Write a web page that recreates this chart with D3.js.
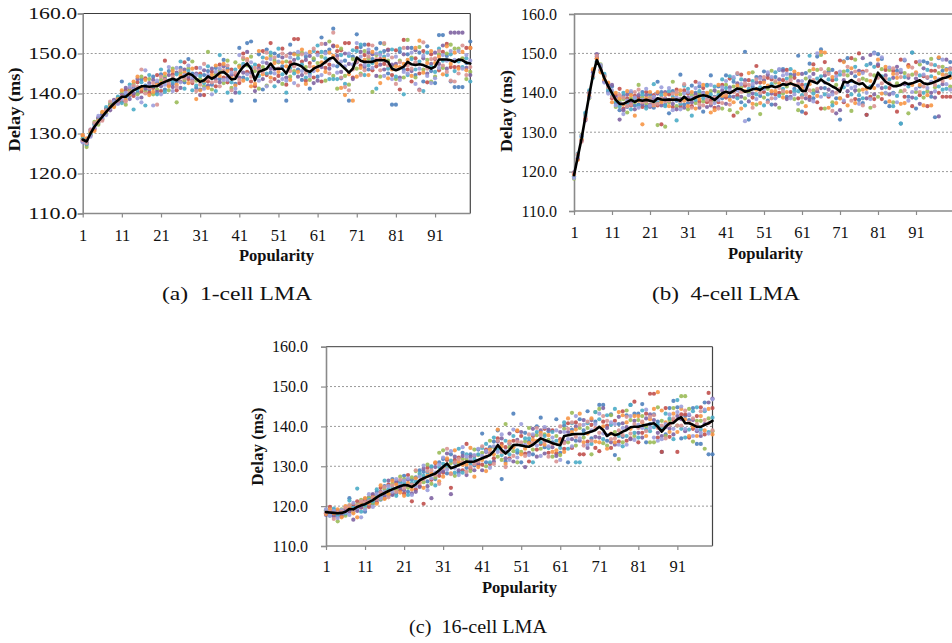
<!DOCTYPE html>
<html><head><meta charset="utf-8">
<script src="https://cdn.jsdelivr.net/npm/d3@7"></script>
<style>body{margin:0;background:#fff}svg text{font-family:"Liberation Serif","Times New Roman",serif}</style>
</head><body><svg id="chart" width="952" height="643"></svg>
<script>
// ---------------- DATA ----------------
const popularity = d3.range(1, 101);
const xTickValues = [1, 11, 21, 31, 41, 51, 61, 71, 81, 91];
const yTickValues = [110, 120, 130, 140, 150, 160];
const gridValues = [120, 130, 140, 150];
const seriesColors = ["#4F81BD", "#C0504D", "#9BBB59", "#8064A2", "#4BACC6", "#F79646", "#9C9EDB", "#D99594"];
const captions = ["(a)  1-cell LMA", "(b)  4-cell LMA", "(c)  16-cell LMA"];
const xTitle = "Popularity";
const yTitle = "Delay (ms)";

// (a) 1-cell LMA
const meanA = [128.5,128.0,130.0,131.7,133.0,134.2,135.4,136.5,137.5,138.3,
139.2,139.2,140.0,140.8,141.3,141.8,141.8,141.7,141.8,141.8,
142.5,142.9,143.3,143.7,143.3,144.0,144.3,145.0,144.6,143.7,
142.9,143.3,144.3,143.7,144.3,145.2,145.4,144.6,143.5,143.7,
145.4,146.7,147.5,146.2,143.3,145.4,145.8,146.2,147.5,146.2,
146.2,146.2,145.0,147.1,147.5,147.2,146.7,145.8,145.4,146.2,
146.7,147.1,147.9,148.7,149.0,147.9,147.1,146.2,145.2,146.2,
149.0,148.2,147.9,147.9,147.9,148.3,148.3,148.3,147.9,146.2,
145.8,146.2,146.7,147.9,147.3,147.1,147.3,147.1,146.7,146.2,
146.7,148.5,148.5,148.5,148.3,147.9,148.5,148.3,147.7,147.5];
const a1 = [128.2,127.2,130.6,132.4,132.6,134.8,135.0,137.2,137.0,139.0,
143.0,139.8,139.5,141.6,140.2,143.5,142.0,141.0,144.2,142.6,
144.8,141.0,145.6,142.4,143.0,146.4,142.8,148.6,145.0,141.4,
141.0,144.6,145.6,142.2,146.4,143.6,148.4,146.2,138.2,142.4,
151.4,144.0,152.6,153.0,138.2,149.8,141.0,151.0,145.2,150.0,
149.4,146.8,138.2,152.2,150.0,146.0,143.4,149.2,141.2,148.4,
144.2,154.0,150.4,151.0,156.2,146.8,143.8,148.2,138.2,149.2,
154.8,151.6,152.2,146.0,148.6,151.2,152.6,150.6,145.0,137.2,
137.2,150.4,146.0,149.8,151.4,144.6,150.2,143.0,151.8,145.6,
142.6,154.6,154.6,149.4,143.0,141.6,141.6,141.6,147.6,153.0];
const a2 = [129.4,128.5,129.5,131.0,133.8,133.5,136.2,136.0,138.2,137.6,
138.0,140.8,141.2,139.4,142.8,140.5,143.8,140.2,141.4,144.6,
140.6,148.2,142.0,144.8,140.8,143.0,147.8,143.6,142.6,146.4,
145.0,139.6,143.0,145.4,141.8,147.2,144.0,142.8,146.0,144.6,
142.6,150.0,145.4,143.0,141.8,147.0,150.6,144.6,152.6,143.6,
144.4,151.2,142.2,147.8,153.6,153.6,148.0,143.2,147.6,144.0,
150.2,143.0,146.4,147.2,152.0,150.6,150.8,152.6,152.6,144.0,
151.4,147.0,149.6,152.2,145.8,146.8,148.6,147.4,151.0,144.6,
150.8,141.0,153.4,146.0,143.0,148.8,145.0,150.6,142.8,149.8,
148.6,145.8,150.4,152.4,146.6,146.6,146.6,148.6,151.4,151.4];
const a3 = [128.8,126.6,130.2,132.9,132.2,135.2,134.9,137.6,136.8,138.9,
140.4,137.2,140.6,142.4,139.8,144.2,140.6,143.6,139.8,141.0,
143.4,144.2,140.8,146.2,137.8,145.2,143.4,146.2,148.0,143.2,
143.6,141.8,150.4,141.0,144.8,145.8,142.6,148.2,141.4,147.8,
147.0,148.6,147.0,149.2,145.6,141.2,146.6,142.0,149.4,148.2,
147.8,142.4,148.0,144.2,145.6,149.6,150.2,146.6,143.4,148.8,
147.6,149.2,143.2,153.0,144.4,141.2,151.2,144.4,142.2,148.6,
146.2,145.0,150.6,148.8,140.4,149.6,144.2,152.4,148.2,146.8,
143.6,148.2,144.0,153.4,149.0,144.0,151.6,146.0,148.4,143.0,
144.2,149.8,146.4,150.0,152.2,151.2,151.2,148.8,143.6,145.4];
const a4 = [128.0,127.8,131.0,131.3,134.0,134.5,136.0,135.8,138.4,138.0,
139.6,141.4,138.6,140.0,143.6,139.0,141.2,142.6,143.4,140.4,
141.8,143.6,144.6,141.6,145.2,141.4,146.0,144.2,143.4,145.0,
139.6,145.8,142.0,146.2,143.6,142.8,146.8,144.0,144.6,140.2,
144.0,145.2,150.4,145.2,140.6,146.2,143.6,147.6,146.2,146.0,
143.0,149.0,144.0,150.0,148.4,144.2,144.6,148.4,149.4,142.6,
143.2,146.6,152.4,146.2,151.8,149.4,145.4,150.0,147.4,143.6,
147.8,150.4,146.6,150.2,149.8,144.4,147.2,146.0,150.8,147.2,
147.4,144.0,149.8,151.4,145.6,150.8,141.0,148.8,145.0,147.4,
150.2,147.4,152.0,146.2,155.2,155.2,155.2,155.2,146.4,144.6];
const a5 = [128.6,127.4,129.8,132.2,133.4,133.8,136.6,137.0,137.9,139.2,
137.6,139.0,142.2,136.0,141.0,142.8,137.0,144.6,141.8,139.8,
146.0,140.4,143.2,143.0,144.8,148.0,141.2,145.6,140.8,142.0,
144.4,142.6,146.8,143.8,140.6,149.6,145.4,140.2,142.8,146.0,
140.2,147.4,143.6,146.6,147.2,144.4,149.0,145.0,150.2,141.8,
151.2,144.8,140.2,146.4,145.0,148.8,147.2,144.0,145.0,150.6,
152.0,150.4,148.8,143.6,143.6,143.6,149.6,142.4,149.4,150.8,
150.6,152.2,144.6,147.0,147.6,141.2,150.2,149.2,146.2,151.0,
144.2,151.2,139.8,144.6,148.6,146.0,148.0,140.6,150.2,146.6,
145.4,151.2,148.2,144.6,149.8,145.6,148.0,146.6,148.8,143.0];
const a6 = [129.6,128.8,130.4,130.6,133.2,135.4,135.6,136.8,136.6,138.6,
140.8,138.4,139.8,143.0,144.2,141.2,143.4,139.6,140.4,142.2,
142.6,145.0,141.8,145.6,142.2,144.4,145.2,142.6,146.2,138.6,
140.8,143.2,141.4,144.6,147.0,144.4,147.4,145.6,143.8,142.0,
146.6,143.2,148.6,141.8,142.4,150.6,144.8,148.8,144.0,147.6,
145.4,147.8,146.8,143.4,149.8,145.4,151.0,142.4,150.4,146.6,
145.8,147.8,145.4,150.2,149.4,151.8,141.4,139.6,144.8,138.2,
144.2,146.4,148.4,144.6,150.4,147.6,142.6,148.6,143.8,146.0,
146.8,146.6,147.4,148.4,144.4,151.4,153.2,145.2,147.6,150.6,
147.6,149.2,144.8,151.8,147.4,150.2,146.2,150.4,145.8,151.4];
const a7 = [127.8,128.2,129.2,131.6,134.4,134.0,134.6,136.3,138.0,137.4,
138.6,140.2,141.6,141.0,138.8,137.8,145.8,142.0,137.0,143.2,
139.8,142.2,146.6,140.6,146.4,142.8,144.6,147.0,144.0,144.6,
146.4,141.2,144.6,139.8,145.4,146.2,143.4,143.4,145.2,141.2,
149.6,146.8,144.8,147.8,144.0,143.2,147.8,141.8,148.6,145.0,
148.0,143.6,143.2,149.0,142.6,150.4,145.6,150.0,144.4,145.6,
149.6,144.6,150.0,148.4,147.0,145.2,148.0,146.8,150.0,147.2,
152.6,149.2,147.2,151.0,146.4,150.0,149.6,144.4,149.6,143.6,
149.2,143.4,145.4,145.0,150.2,142.4,146.2,149.4,144.4,142.6,
143.8,146.4,149.6,148.2,150.6,148.4,150.6,146.2,149.6,148.2];
const a8 = [128.3,127.6,130.9,132.6,132.8,133.2,135.8,138.0,137.3,138.2,
139.2,138.0,140.2,142.0,141.6,146.0,140.0,141.4,142.6,137.2,
144.2,143.4,142.6,144.2,141.6,145.8,143.8,144.8,143.0,140.6,
142.2,147.4,143.8,142.8,143.0,141.8,145.8,147.0,140.8,145.2,
143.4,149.0,148.2,144.2,146.4,145.8,145.4,150.2,143.0,149.0,
146.2,150.0,149.4,145.6,146.8,142.0,149.8,145.2,146.8,151.2,
146.6,152.4,147.8,145.0,155.2,148.6,144.0,141.6,140.8,146.0,
148.0,144.6,145.8,149.2,152.0,148.6,145.8,152.6,147.0,149.0,
142.4,147.8,151.4,147.0,146.2,147.8,140.8,152.8,146.2,148.6,
148.8,150.6,147.0,145.4,143.2,143.0,145.0,152.0,144.6,146.6];

// (b) 4-cell LMA
const meanB = [119.1,123.8,128.4,133.9,139.4,144.5,148.3,146.2,143.7,141.7,
139.9,138.2,137.2,137.2,137.7,138.2,137.7,138.2,138.0,138.2,
138.0,137.7,138.6,138.3,138.2,138.3,138.2,138.3,138.0,139.0,
138.2,138.3,138.8,139.2,139.4,139.2,138.8,138.2,139.0,139.9,
140.3,139.9,140.5,141.1,140.9,140.3,140.5,140.9,141.1,140.7,
141.4,141.4,141.7,141.4,141.7,142.2,142.0,142.4,142.0,141.7,
140.5,140.5,143.1,142.8,142.4,143.4,142.6,142.2,141.6,141.1,
140.3,142.8,142.6,143.2,142.6,142.2,142.4,141.4,141.1,142.6,
145.1,143.9,142.8,142.2,141.7,141.7,142.0,142.6,142.2,142.4,
142.8,143.2,142.4,142.2,142.4,142.8,143.2,143.7,143.9,144.3];
const b1 = [118.6,124.2,129.0,134.6,140.2,145.0,149.2,145.6,144.4,140.4,
141.6,137.2,135.6,139.2,136.4,140.0,136.8,137.0,140.2,136.6,
139.6,136.2,142.8,140.2,137.0,134.8,140.4,138.0,144.6,137.0,
137.4,141.8,140.0,141.6,135.2,142.0,144.4,139.0,141.6,138.6,
144.4,139.0,142.8,144.8,137.6,150.4,133.2,141.6,144.0,139.2,
145.4,138.0,137.0,144.0,145.8,146.0,139.0,144.6,141.0,149.4,
135.2,145.0,147.4,138.6,149.2,151.0,141.2,145.4,145.8,138.6,
133.2,148.0,148.8,143.0,144.2,138.2,137.4,134.4,147.4,150.2,
149.8,148.6,137.6,136.6,140.0,145.6,132.2,148.2,139.0,150.2,
136.0,141.6,148.0,147.6,139.0,133.8,148.8,145.6,146.0,147.8];
const b2 = [119.4,123.2,128.0,133.4,139.0,145.6,148.8,146.8,143.0,142.2,
138.6,139.4,141.0,136.0,138.6,136.8,139.2,138.8,136.4,140.2,
137.0,139.4,136.8,132.0,138.6,139.6,136.4,140.8,136.6,140.6,
139.8,136.6,142.8,137.8,141.2,137.6,138.0,136.2,137.6,142.0,
138.8,143.6,134.2,139.4,144.6,141.8,143.2,138.8,146.8,142.6,
140.2,143.8,143.4,139.6,140.0,143.2,145.8,140.2,143.8,138.6,
142.0,134.8,139.0,147.2,137.6,136.0,147.8,139.0,143.2,145.0,
148.2,137.6,139.2,148.8,138.4,150.0,145.4,134.4,139.0,138.4,
146.8,138.4,145.8,141.2,145.6,135.2,148.4,139.0,147.0,136.6,
147.8,139.4,144.2,136.6,145.6,145.6,140.0,139.0,139.0,139.0];
const b3 = [118.2,124.0,129.4,134.2,138.6,144.0,147.6,147.2,144.0,141.2,
140.2,136.4,138.0,138.4,135.0,138.6,137.6,142.0,138.8,137.4,
138.8,137.4,131.8,138.0,131.4,137.6,142.8,136.6,139.6,138.6,
135.8,139.4,137.4,139.8,137.8,139.8,140.4,137.8,140.2,136.0,
142.0,135.6,141.6,135.0,141.4,138.6,140.0,145.2,137.0,134.6,
138.8,141.0,145.6,142.6,136.2,139.8,141.6,144.0,138.4,135.6,
137.6,143.6,145.6,140.6,145.8,149.6,136.0,146.0,137.6,142.0,
138.6,145.4,144.4,135.4,148.4,140.6,143.6,143.2,136.2,144.4,
139.0,146.0,139.8,145.8,137.6,142.4,140.4,145.0,134.8,144.6,
140.2,147.2,138.8,140.4,148.6,141.4,145.0,146.6,144.6,141.6];
const b4 = [119.8,123.4,127.8,133.0,139.8,145.2,149.8,145.8,142.8,141.8,
142.0,138.8,133.2,135.6,139.6,137.4,135.8,139.4,137.0,139.4,
136.4,138.6,139.8,136.8,140.2,138.2,137.2,135.8,138.4,136.2,
138.8,137.6,139.6,136.2,140.0,136.4,136.8,140.6,136.4,140.6,
137.2,141.4,139.0,142.4,139.0,143.2,137.8,139.8,142.6,144.0,
143.2,144.6,139.8,137.0,143.4,145.6,138.4,139.0,144.6,143.0,
144.8,138.6,138.2,144.8,140.4,141.2,144.4,140.8,140.2,134.8,
135.6,143.2,140.4,145.0,140.6,145.6,148.8,138.6,149.6,139.6,
147.2,141.2,144.4,139.6,143.8,146.6,145.2,142.2,143.8,138.8,
143.6,137.2,146.2,143.8,140.0,138.8,134.0,142.2,148.4,146.2];
const b5 = [118.8,124.6,128.6,135.0,140.6,143.8,148.0,146.4,144.8,140.8,
139.2,137.8,136.6,140.0,137.2,135.8,138.4,136.6,139.6,136.0,
138.2,142.2,137.6,139.4,136.6,140.4,139.0,133.0,137.2,141.8,
141.0,134.2,138.2,140.4,138.6,141.8,139.6,141.6,139.4,143.4,
141.2,144.2,143.6,138.6,143.4,136.8,141.0,143.0,139.6,141.4,
136.8,139.6,142.2,145.2,139.2,141.0,143.6,146.0,140.4,140.4,
139.4,142.0,149.4,139.8,143.6,144.2,139.6,143.4,136.8,143.4,
144.6,141.4,145.6,139.6,146.6,139.4,138.6,147.0,141.6,146.6,
144.0,144.2,141.4,143.4,136.6,139.2,132.2,144.0,141.6,150.2,
138.6,144.4,140.0,145.8,144.2,147.0,141.6,140.8,141.0,145.0];
const b6 = [119.2,123.0,128.2,133.6,139.2,146.0,148.6,145.2,143.4,142.6,
137.6,140.0,138.6,137.0,140.4,139.4,134.2,138.0,132.0,138.6,
140.2,136.8,140.2,137.6,139.6,136.6,138.4,139.6,140.6,138.0,
136.6,140.2,136.0,138.4,142.0,140.0,135.0,135.6,142.0,139.2,
139.4,138.2,137.6,141.8,136.0,140.4,145.0,137.2,140.8,137.4,
142.6,141.8,140.4,140.4,142.4,138.8,140.2,142.4,145.4,144.8,
141.2,136.6,142.2,146.0,139.2,150.4,150.2,136.2,144.0,137.4,
138.6,147.8,136.8,146.2,137.4,144.8,140.8,141.0,143.0,141.2,
148.4,139.8,146.6,137.8,144.8,143.8,137.2,137.4,146.6,142.0,
145.2,142.0,136.8,139.4,136.8,143.8,149.0,144.6,145.8,143.8];
const b7 = [118.4,123.6,129.2,134.0,138.8,144.6,147.8,147.0,142.6,139.8,
140.6,136.8,137.4,134.6,138.0,140.4,138.8,136.2,138.2,141.0,
136.8,139.0,138.4,141.4,138.4,141.2,135.6,138.8,135.8,139.8,
140.2,138.8,141.2,142.4,139.8,138.8,142.0,137.4,138.2,141.4,
143.0,140.6,144.0,140.6,142.2,132.8,139.4,142.2,138.4,143.6,
141.0,145.2,144.0,138.6,146.0,144.4,144.8,138.6,139.6,137.2,
143.0,141.4,144.0,137.8,150.0,139.0,142.6,139.4,139.6,144.2,
145.4,138.0,142.0,141.2,141.6,137.2,145.0,140.0,138.4,150.0,
141.8,149.0,140.0,146.4,139.8,137.6,145.8,148.4,138.0,140.2,
141.0,148.0,144.6,141.2,142.8,140.4,143.4,148.4,142.2,140.8];
const b8 = [119.6,124.4,127.6,133.2,140.0,144.2,149.4,146.0,144.2,141.4,
139.0,138.4,139.4,138.8,136.6,137.0,140.2,140.8,137.6,137.8,
138.6,137.0,137.2,138.6,137.8,138.0,139.8,140.2,137.8,142.2,
138.2,136.2,139.0,137.0,136.8,138.2,137.4,138.8,136.0,137.4,
140.0,137.0,140.2,145.0,140.2,142.4,142.0,136.2,143.4,140.0,
144.0,137.6,138.6,143.0,141.2,140.4,142.6,143.2,142.0,142.2,
138.8,139.6,140.6,143.2,141.0,146.0,145.2,144.8,135.4,140.0,
141.0,144.6,146.6,138.0,145.4,143.2,136.8,145.6,144.6,136.6,
143.8,142.4,143.6,142.4,146.2,144.8,144.0,140.6,144.4,146.4,
144.8,140.2,141.6,144.0,147.2,142.0,146.6,143.0,144.4,146.0];

// (c) 16-cell LMA
const meanC = [118.5,118.4,118.3,118.2,118.3,118.6,119.3,119.2,119.8,120.2,
120.5,121.0,121.5,122.2,122.8,123.3,123.8,124.2,124.6,125.0,
125.3,125.2,124.8,125.5,126.5,127.0,127.4,127.8,128.2,129.0,
129.9,130.7,129.5,129.9,130.3,130.7,131.2,131.1,131.2,131.6,
132.0,132.4,132.8,133.8,135.3,134.1,133.2,134.1,135.3,135.4,
135.2,135.0,134.9,135.4,136.2,137.0,136.6,136.2,135.8,135.5,
135.3,137.6,137.8,138.0,138.1,138.1,138.1,138.4,138.7,139.1,
139.9,139.1,137.6,138.3,137.8,138.1,138.7,139.1,139.8,139.9,
139.9,140.2,140.4,140.6,140.8,139.9,138.7,139.9,140.8,140.9,
141.8,142.3,140.8,140.8,140.4,139.9,139.9,140.4,140.8,141.4];
const c1 = [118.8,118.0,119.0,117.6,118.8,118.0,122.0,119.8,119.2,121.0,
118.6,122.2,120.6,123.6,121.6,125.0,122.6,126.8,123.2,126.2,
127.6,123.6,126.6,127.2,129.0,128.6,126.2,129.8,126.8,131.0,
131.8,128.2,133.0,130.8,128.4,133.4,129.6,133.0,130.2,134.2,
138.2,131.0,134.8,136.2,139.0,126.8,131.2,135.6,143.2,133.4,
131.0,138.4,136.2,133.0,140.0,142.2,134.8,138.8,136.0,141.8,
133.4,140.2,131.0,139.2,136.4,141.8,139.0,143.8,137.0,141.2,
145.4,145.4,136.4,143.0,132.8,140.6,137.4,142.8,145.4,143.2,
143.2,145.6,136.0,140.6,143.0,141.2,133.6,138.0,144.6,146.4,
144.8,137.0,142.6,141.6,144.6,135.6,135.6,146.0,133.0,133.0];
const c2 = [118.2,119.8,117.8,118.6,117.4,119.4,118.6,120.4,121.2,119.6,
121.4,119.8,122.8,121.0,124.6,122.0,125.4,123.0,125.8,124.0,
123.2,127.8,121.2,124.2,125.0,120.6,129.6,126.6,130.8,127.6,
128.4,131.6,124.6,131.6,132.2,129.0,135.6,129.4,132.6,130.4,
130.4,134.2,130.6,132.0,137.0,135.6,134.8,132.0,136.4,138.8,
137.6,133.2,131.2,137.6,134.2,135.6,139.4,133.4,139.0,133.2,
136.8,134.4,140.8,134.6,141.0,133.0,133.0,136.2,140.4,134.6,
133.8,141.2,140.2,134.6,141.4,136.2,143.8,136.4,137.0,146.2,
136.0,138.4,143.2,148.2,148.2,137.2,133.6,144.6,137.4,141.6,
133.6,143.0,143.0,137.2,139.4,142.6,144.8,138.0,148.4,144.6];
const c3 = [119.0,118.6,118.4,116.2,119.2,117.6,120.2,118.6,120.4,121.6,
119.6,122.0,120.8,122.6,121.8,124.2,123.2,125.6,124.0,127.4,
126.8,124.6,127.2,128.8,127.8,126.0,130.4,125.6,127.2,133.4,
134.0,129.8,130.8,127.6,130.6,131.8,131.8,128.8,134.2,132.8,
133.4,130.0,136.4,134.8,132.4,131.6,140.6,134.8,133.8,131.0,
133.6,136.2,139.6,134.2,137.8,134.4,138.0,136.6,132.4,137.6,
132.8,139.4,136.0,143.4,135.2,139.6,137.2,139.6,133.0,143.6,
144.4,135.8,135.2,142.8,138.6,131.8,136.0,144.0,141.6,137.6,
141.6,142.6,140.0,136.0,136.0,144.8,141.4,137.6,141.6,144.6,
140.2,147.6,147.6,144.4,136.2,141.4,141.4,134.4,142.0,138.8];
const c4 = [117.8,118.8,117.4,118.8,117.8,119.0,118.8,116.6,118.8,119.8,
121.8,120.4,123.0,121.6,123.6,122.6,126.4,122.8,126.2,124.6,
124.0,126.6,123.2,123.6,124.8,129.4,125.0,122.0,129.8,128.4,
128.8,133.2,123.0,132.4,129.0,132.6,127.8,132.4,129.0,130.8,
129.0,133.6,133.2,131.2,136.2,137.0,132.0,138.2,131.2,136.6,
138.6,129.8,133.4,139.4,132.4,139.0,133.2,139.2,134.8,132.6,
138.6,136.2,138.6,136.8,140.0,136.4,141.6,134.6,141.6,137.4,
137.2,144.6,139.6,136.0,135.4,142.4,140.8,139.8,136.8,141.4,
138.4,137.2,142.0,143.0,141.6,138.4,137.6,139.8,139.4,138.0,
142.6,141.8,138.8,142.8,141.6,138.8,137.6,140.6,146.0,147.0];
const c5 = [118.6,117.6,119.4,117.8,118.4,118.2,121.4,119.6,124.4,118.6,
120.2,121.6,121.2,124.2,122.4,126.4,124.2,124.6,122.6,125.8,
125.8,122.8,125.8,126.2,128.2,127.6,128.4,130.0,125.2,129.8,
130.6,130.2,131.4,128.4,134.4,128.4,133.0,130.6,131.8,133.0,
134.6,135.6,131.0,137.2,134.2,132.8,136.4,133.0,137.6,134.0,
135.4,137.0,137.0,131.0,138.6,136.0,137.6,134.6,138.6,136.4,
134.6,141.0,134.4,140.8,131.0,131.0,138.2,140.8,135.6,143.6,
141.8,136.8,142.8,140.4,144.4,137.6,135.0,137.6,145.4,138.4,
137.2,144.0,139.2,138.8,139.8,140.4,139.6,143.2,142.0,136.8,
146.6,139.4,137.2,139.2,143.8,144.8,139.2,143.8,138.6,142.2];
const c6 = [118.0,119.2,118.2,119.2,117.2,120.0,119.6,118.2,117.2,120.6,
122.0,120.6,122.2,120.6,125.2,121.8,123.0,126.4,125.4,123.4,
122.6,125.8,124.2,127.0,126.0,124.6,127.6,128.2,131.0,126.2,
127.4,132.0,128.2,134.0,131.2,130.4,130.4,134.6,127.4,129.8,
131.6,128.8,134.2,133.0,139.2,135.0,130.6,136.2,134.8,139.0,
133.0,134.4,135.8,136.6,136.4,138.4,135.4,137.8,133.6,134.0,
136.2,133.6,142.0,138.6,139.2,143.2,136.0,138.2,142.0,136.2,
136.0,140.0,134.4,138.2,136.0,143.6,142.8,141.0,139.4,142.6,
142.6,141.0,137.6,141.8,144.4,148.6,144.0,141.0,138.6,143.2,
138.6,144.4,141.8,137.6,140.0,137.6,142.6,139.0,144.4,138.0];
const c7 = [119.2,117.6,118.8,117.0,119.0,118.4,117.8,120.8,119.6,117.2,
119.2,123.0,119.8,123.0,122.0,123.6,125.0,123.6,126.8,125.2,
126.4,127.0,122.8,125.0,127.4,130.2,124.0,127.0,128.4,130.4,
132.2,129.2,133.8,129.6,127.8,134.8,132.4,131.6,132.8,134.4,
132.6,133.8,129.6,135.0,133.6,138.0,133.8,131.6,139.2,132.2,
140.6,135.4,132.8,138.0,135.2,132.6,139.8,135.0,137.2,139.0,
131.6,138.6,136.8,135.0,142.6,137.0,140.4,135.4,139.0,140.6,
143.2,138.2,137.8,141.0,140.6,135.4,139.6,135.4,142.6,136.6,
140.4,139.6,144.2,139.6,137.2,136.4,136.8,140.6,143.0,139.4,
143.6,145.0,139.4,143.0,137.6,139.2,138.4,144.2,138.2,146.8];
const c8 = [118.4,118.6,116.8,118.4,118.6,119.6,120.2,119.0,120.2,121.2,
121.0,121.2,122.0,121.8,123.4,124.8,122.2,125.2,123.6,126.6,
124.6,125.2,125.4,129.0,125.8,126.8,128.8,129.0,127.8,125.6,
129.6,134.4,128.0,131.0,131.8,131.0,128.6,129.8,130.6,131.2,
135.0,132.4,133.4,130.6,136.4,133.6,129.8,135.8,132.6,136.2,
136.0,132.6,138.0,135.8,139.6,137.8,136.2,132.4,135.6,131.2,
140.0,135.8,139.4,141.0,137.4,140.4,135.2,141.2,136.4,139.6,
138.4,142.6,141.4,136.8,137.0,139.0,137.8,142.4,138.2,140.6,
139.6,141.2,138.8,142.4,142.8,139.6,140.2,137.0,140.4,142.0,
140.2,140.2,144.0,141.0,142.0,140.6,143.8,141.6,140.8,139.0];

// ---------------- LAYOUT ----------------
const panels = [
  {series: [a1, a2, a3, a4, a5, a6, a7, a8], mean: meanA, caption: captions[0],
   box: {left: 82.7, right: 470.3, top: 13.5, bottom: 213.5}, drawRight: true,
   yPad: 0.5, yLabelLen: 49, xPad: 11.5, xTitleX: 276.5, xTitleY: 260.5,
   yTitleX: 15, yTitleY: 109.5, yTitleLen: 84, capX: 237, capY: 300, capLen: 150},
  {series: [b1, b2, b3, b4, b5, b6, b7, b8], mean: meanB, caption: captions[1],
   box: {left: 574, right: 950.2, top: 14, bottom: 211}, drawRight: false,
   yPad: 12, yLabelLen: null, xPad: 11, xTitleX: 765.5, xTitleY: 258.5,
   yTitleX: 506.7, yTitleY: 111, yTitleLen: 82, capX: 726, capY: 300, capLen: 148},
  {series: [c1, c2, c3, c4, c5, c6, c7, c8], mean: meanC, caption: captions[2],
   box: {left: 326, right: 712.5, top: 346.7, bottom: 546}, drawRight: true,
   yPad: 13, yLabelLen: null, xPad: 10.5, xTitleX: 519.5, xTitleY: 592.5,
   yTitleX: 258.3, yTitleY: 446.7, yTitleLen: 78, capX: 478, capY: 633, capLen: 138}
];

const svg = d3.select("#chart");

panels.forEach(p => {
  const b = p.box;
  const x = d3.scaleLinear().domain([1, 100]).range([b.left, b.right]);
  const y = d3.scaleLinear().domain([110, 160]).range([b.bottom, b.top]);
  const g = svg.append("g");
  const gridRight = b.right + (p.drawRight ? 0 : 10);

  // gridlines
  g.selectAll("line.grid").data(gridValues).join("line")
    .attr("class", "grid")
    .attr("x1", b.left).attr("x2", gridRight)
    .attr("y1", d => y(d)).attr("y2", d => y(d))
    .attr("stroke", "#9a9a9a").attr("stroke-width", 1).attr("stroke-dasharray", "2,2");

  // top & right border
  g.append("line").attr("x1", b.left).attr("x2", gridRight)
    .attr("y1", y(160)).attr("y2", y(160)).attr("stroke", "#3c3c3c").attr("stroke-width", 1);
  if (p.drawRight) {
    g.append("line").attr("x1", b.right).attr("x2", b.right)
      .attr("y1", y(160)).attr("y2", y(110)).attr("stroke", "#444").attr("stroke-width", 1.2);
  }

  // axes
  const yAxis = d3.axisLeft(y).tickValues(yTickValues).tickSize(5).tickPadding(p.yPad)
    .tickFormat(d => d.toFixed(1));
  const ya = g.append("g").attr("transform", `translate(${b.left},0)`).call(yAxis);
  ya.select(".domain").attr("stroke", "#8a8a8a").attr("stroke-width", 1.6);
  ya.selectAll(".tick line").attr("stroke", "#8a8a8a").attr("stroke-width", 1.2);
  ya.selectAll(".tick text").attr("font-size", 16).attr("fill", "#111")
    .attr("font-family", '"Liberation Serif","Times New Roman",serif');
  if (p.yLabelLen) ya.selectAll(".tick text").attr("textLength", p.yLabelLen).attr("lengthAdjust", "spacingAndGlyphs");

  const xAxis = d3.axisBottom(x).tickValues(xTickValues).tickSize(4).tickPadding(p.xPad)
    .tickFormat(d3.format("d"));
  const xa = g.append("g").attr("transform", `translate(0,${b.bottom})`).call(xAxis);
  xa.select(".domain").attr("stroke", "#8a8a8a").attr("stroke-width", 1.6)
    .attr("d", `M${b.left},0H${gridRight}`);
  xa.selectAll(".tick line").attr("stroke", "#8a8a8a").attr("stroke-width", 1.2);
  xa.selectAll(".tick text").attr("font-size", 16.5).attr("fill", "#111")
    .attr("font-family", '"Liberation Serif","Times New Roman",serif');

  // scatter series
  p.series.forEach((s, si) => {
    g.append("g").selectAll("circle").data(s).join("circle")
      .attr("cx", (d, i) => x(popularity[i]))
      .attr("cy", d => y(d))
      .attr("r", 2.1)
      .attr("fill", seriesColors[si])
      .attr("opacity", 0.9);
  });

  // mean line
  const line = d3.line().x((d, i) => x(popularity[i])).y(d => y(d));
  g.append("path").datum(p.mean).attr("d", line)
    .attr("fill", "none").attr("stroke", "#000").attr("stroke-width", 2.6)
    .attr("stroke-linejoin", "round").attr("stroke-linecap", "round");

  // axis titles
  g.append("text").attr("x", p.xTitleX).attr("y", p.xTitleY)
    .attr("text-anchor", "middle").attr("font-weight", "bold").attr("font-size", 16.5)
    .attr("fill", "#111").text(xTitle);
  g.append("text")
    .attr("transform", `translate(${p.yTitleX},${p.yTitleY}) rotate(-90)`)
    .attr("dy", "0.3em").attr("text-anchor", "middle").attr("font-weight", "bold")
    .attr("font-size", 16.5).attr("fill", "#111")
    .attr("textLength", p.yTitleLen).attr("lengthAdjust", "spacingAndGlyphs")
    .text(yTitle);

  // caption
  svg.append("text").attr("x", p.capX).attr("y", p.capY)
    .attr("text-anchor", "middle").attr("font-size", 19.5).attr("fill", "#111")
    .style("white-space", "pre")
    .attr("textLength", p.capLen).attr("lengthAdjust", "spacingAndGlyphs")
    .text(p.caption);
});
</script>
</body></html>
